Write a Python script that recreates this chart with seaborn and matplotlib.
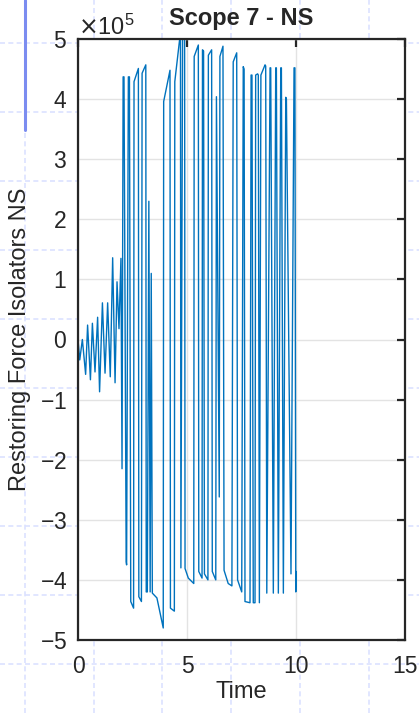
import numpy as np
import pandas as pd
import matplotlib
matplotlib.use("Agg")
import matplotlib.pyplot as plt
from matplotlib.lines import Line2D
from matplotlib.ticker import ScalarFormatter
import seaborn as sns

# === Data (time in s, force in units of 1e5) ===
time_s = [0.00, 0.08, 0.20, 0.35, 0.44, 0.57, 0.66, 0.78, 0.90, 0.99,
          1.12, 1.24, 1.36, 1.48, 1.59, 1.70, 1.79, 1.88, 1.97,
          2.02, 2.07, 2.11, 2.21, 2.23, 2.31, 2.36, 2.42, 2.55, 2.57, 2.77,
          2.79, 2.91, 2.94, 3.11, 3.13, 3.18, 3.25, 3.31, 3.36, 3.41,
          3.62, 3.91, 3.93, 4.22, 4.24, 4.42, 4.44, 4.68, 4.70, 4.72,
          4.80, 4.89, 4.91, 5.06, 5.31, 5.33, 5.52, 5.54, 5.69, 5.71,
          5.76, 5.80, 5.96, 5.98, 6.13, 6.16, 6.32, 6.35, 6.48, 6.51,
          6.65, 6.70, 6.89, 7.06, 7.12, 7.28, 7.32, 7.51, 7.58, 7.62,
          7.66, 7.89, 7.94, 7.98, 8.04, 8.12, 8.15, 8.24, 8.27, 8.32,
          8.39, 8.58, 8.61, 8.66, 8.81, 8.84, 8.96, 9.07, 9.10, 9.19,
          9.30, 9.33, 9.42, 9.53, 9.56, 9.77, 9.91, 9.95, 9.99, 10.00]
force = [0.00, -0.34, 0.00, -0.58, 0.24, -0.67, 0.27, -0.54, 0.37, -0.87,
         0.61, -0.56, 0.61, -0.62, 1.36, -0.72, 0.96, 0.18, 1.35,
         -2.15, 4.37, 4.37, -3.70, -3.75, 4.37, 4.37, -4.36, -4.47, 4.29, 4.51,
         -4.28, -4.36, 4.43, 4.57, -4.20, -4.20, 2.30, -4.20, 1.10, -4.22,
         -4.30, -4.80, 3.96, 4.48, -4.47, -4.52, 4.29, 5.05, 5.05, -3.80,
         5.30, 5.30, -3.81, -3.97, -4.06, 4.71, 4.90, -3.86, -3.97, 4.82,
         4.80, -3.90, -4.00, 4.73, 4.82, -3.86, -4.00, 4.04, -2.62, 4.71,
         4.88, -3.84, -4.06, -4.10, 4.62, 4.77, -4.00, -4.20, 4.54, 4.50,
         -4.36, -4.38, 4.40, 4.40, -4.38, -4.38, 4.40, 4.42, 4.40, -4.38,
         4.40, 4.57, 4.55, -4.22, 4.52, 4.52, -4.22, 4.52, 4.52, -4.22,
         4.52, 4.52, -4.22, 4.03, 4.00, -3.90, 4.52, 4.52, -4.20, -3.86]

df = pd.DataFrame({"Time": time_s, "Force": np.array(force) * 1e5})

x_ticks = [0, 5, 10, 15]
y_ticks = np.arange(-5, 6, 1) * 1e5

sns.set_style("white")
plt.rcParams["font.family"] = ["Liberation Sans", "DejaVu Sans"]
plt.rcParams["axes.unicode_minus"] = False

fig = plt.figure(figsize=(4.19, 7.13), dpi=100)

# background scope grid visible around the axes
for yy in [42.7, 111.7, 180.7, 249.7, 318.7, 387.7, 456.7, 525.7, 594.7, 663.7]:
    fig.add_artist(Line2D([0, 1], [1 - yy / 713] * 2, color="#dbe2ff",
                          lw=1.2, ls=(0, (3, 2)), zorder=0))
for xx in [25, 93.7, 162.4, 231.1, 299.8, 368.5]:
    fig.add_artist(Line2D([xx / 419] * 2, [0, 1], color="#dbe2ff",
                          lw=1.2, ls=(0, (3, 2)), zorder=0))
fig.add_artist(Line2D([24.5 / 419] * 2, [1, 1 - 130 / 713], color="#7b8cf0",
                      lw=2.2, zorder=1))

ax = fig.add_axes([78 / 419, 73 / 713, 327 / 419, 601 / 713])
ax.set_zorder(2)
sns.lineplot(data=df, x="Time", y="Force", sort=False, estimator=None,
             color="#0072BD", linewidth=1.0, ax=ax)

ax.set_xlim(0, 15)
ax.set_ylim(-5e5, 5e5)
ax.set_xticks(x_ticks)
ax.set_yticks(y_ticks)

fmt = ScalarFormatter(useMathText=True)
fmt.set_powerlimits((0, 0))
ax.yaxis.set_major_formatter(fmt)
ax.yaxis.get_offset_text().set_fontsize(17)
ax.yaxis.get_offset_text().set_color("#262626")

ax.grid(True, color="#e3e3e3", linewidth=1.0)
ax.set_axisbelow(True)
for s in ax.spines.values():
    s.set_visible(True)
    s.set_color("#262626")
    s.set_linewidth(1.6)
ax.tick_params(direction="in", length=6, width=1.6, color="#262626",
               labelsize=16.5, labelcolor="#262626", top=True, right=True)
ax.tick_params(axis="y", pad=8)
ax.tick_params(axis="x", pad=11)

ax.set_title("Scope 7 - NS", fontsize=17, fontweight="bold", pad=10)
ax.set_xlabel("Time", fontsize=17, color="#262626", labelpad=2)
ax.set_ylabel("Restoring Force Isolators NS", fontsize=17, color="#262626",
              labelpad=6)

fig.savefig("out.png", dpi=100)
